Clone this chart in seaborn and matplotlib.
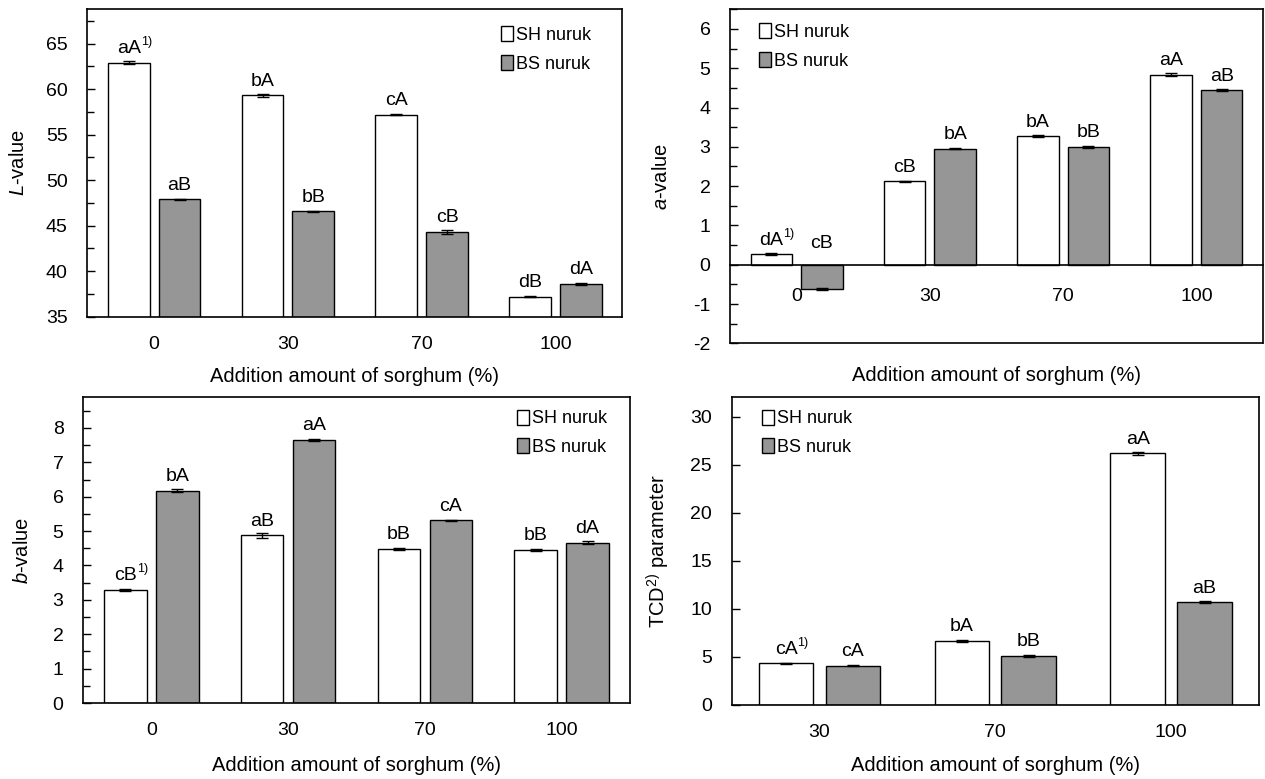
import matplotlib
matplotlib.use("Agg")
import matplotlib.pyplot as plt
import seaborn as sns
import pandas as pd
from matplotlib.patches import Patch
from matplotlib.ticker import MultipleLocator, NullLocator

# ---------------- data ----------------
series = ["SH nuruk", "BS nuruk"]
cats4 = ["0", "30", "70", "100"]
cats3 = ["30", "70", "100"]

L_sh = [62.9, 59.3, 57.2, 37.2]
L_bs = [47.9, 46.6, 44.3, 38.6]
L_sh_err = [0.15, 0.20, 0.05, 0.08]
L_bs_err = [0.05, 0.05, 0.20, 0.12]
L_sh_lab = ["aA", "bA", "cA", "dB"]
L_bs_lab = ["aB", "bB", "cB", "dA"]

a_sh = [0.27, 2.12, 3.27, 4.84]
a_bs = [-0.61, 2.95, 3.00, 4.44]
a_sh_err = [0.03, 0.01, 0.03, 0.03]
a_bs_err = [0.03, 0.01, 0.03, 0.03]
a_sh_lab = ["dA", "cB", "bA", "aA"]
a_bs_lab = ["cB", "bA", "bB", "aB"]

b_sh = [3.29, 4.88, 4.49, 4.45]
b_bs = [6.18, 7.65, 5.31, 4.66]
b_sh_err = [0.03, 0.07, 0.03, 0.04]
b_bs_err = [0.04, 0.03, 0.01, 0.04]
b_sh_lab = ["cB", "aB", "bB", "bB"]
b_bs_lab = ["bA", "aA", "cA", "dA"]

t_sh = [4.31, 6.63, 26.15]
t_bs = [4.03, 5.10, 10.66]
t_sh_err = [0.05, 0.12, 0.15]
t_bs_err = [0.05, 0.10, 0.10]
t_sh_lab = ["cA", "bA", "aA"]
t_bs_lab = ["cA", "bB", "aB"]

xlabel = "Addition amount of sorghum (%)"

# ---------------- style ----------------
sns.set_style("white")
plt.rcParams["font.family"] = ["Liberation Sans", "DejaVu Sans"]
plt.rcParams["mathtext.fontset"] = "custom"
plt.rcParams["mathtext.rm"] = "Liberation Sans"
plt.rcParams["mathtext.it"] = "Liberation Sans:italic"
plt.rcParams["axes.unicode_minus"] = False
for k in ["text.color", "axes.labelcolor", "xtick.color", "ytick.color", "axes.edgecolor"]:
    plt.rcParams[k] = "black"

GRAY = "#969696"
palette = {series[0]: "white", series[1]: GRAY}

fig = plt.figure(figsize=(12.65, 7.79), dpi=100)


def panel(rect, cats, sh, bs, sh_err, bs_err, sh_lab, bs_lab, ylim, major, minor,
          ylabel, ylab_x, xlab_y, leg_xy, xpad=14, zero_axis=False, note="1)"):
    ax = fig.add_axes(rect)
    n = len(cats)
    df = pd.DataFrame({
        "cat": cats * 2,
        "val": sh + bs,
        "series": [series[0]] * n + [series[1]] * n,
    })
    sns.barplot(data=df, x="cat", y="val", hue="series", order=cats, hue_order=series,
                palette=palette, saturation=1, width=0.76, gap=0.18,
                edgecolor="black", linewidth=1.0, errorbar=None, legend=False, ax=ax)

    first = True
    for cont, vals, err, labs in zip(ax.containers, [sh, bs], [sh_err, bs_err], [sh_lab, bs_lab]):
        xs = [p.get_x() + p.get_width() / 2 for p in cont.patches]
        ax.errorbar(xs, vals, yerr=err, fmt="none", ecolor="black", elinewidth=1.0,
                    capsize=4, capthick=1.0, zorder=5)
        for x, v, lab in zip(xs, vals, labs):
            off = 4 if v >= 0 else 9
            t = ax.annotate(lab, (x, max(v, 0)), xytext=(0, off), textcoords="offset points",
                            ha="center", va="bottom", fontsize=14)
            if first:
                ax.annotate(note, xy=(1.0, 0.88), xycoords=t, ha="left", va="center", fontsize=9)
                first = False

    ax.set_xlim(-0.5, n - 0.5)
    ax.set_ylim(*ylim)
    ax.yaxis.set_major_locator(MultipleLocator(major))
    if minor:
        ax.yaxis.set_minor_locator(MultipleLocator(minor))
    else:
        ax.yaxis.set_minor_locator(NullLocator())
    ax.set_xticks(range(n))
    ax.set_xticklabels(cats)
    ax.set_xticks([i + 0.5 for i in range(n - 1)], minor=True)

    ax.tick_params(axis="x", which="major", length=0, pad=xpad, labelsize=14)
    ax.tick_params(axis="x", which="minor", length=5, width=1.0, direction="in")
    ax.tick_params(axis="y", which="major", length=6, width=1.0, direction="in", pad=14,
                   labelsize=14, left=True)
    ax.tick_params(axis="y", which="minor", length=5, width=1.0, direction="in", left=True)

    for s in ax.spines.values():
        s.set_visible(True)
        s.set_color("black")
        s.set_linewidth(1.2)

    if zero_axis:
        ax.spines["bottom"].set_position(("data", 0))
        ax.plot([0, 1], [0, 0], transform=ax.transAxes, color="black", lw=1.2, clip_on=False)

    ax.set_xlabel(xlabel, fontsize=14.5)
    ax.xaxis.set_label_coords(0.5, xlab_y)
    ax.xaxis.label.set_va("center")
    ax.set_ylabel(ylabel, fontsize=14.5)
    ax.yaxis.set_label_coords(ylab_x, 0.5)
    ax.yaxis.label.set_va("center")

    handles = [Patch(facecolor="white", edgecolor="black", lw=1.0),
               Patch(facecolor=GRAY, edgecolor="black", lw=1.0)]
    ax.legend(handles, series, loc="upper left", bbox_to_anchor=leg_xy, frameon=False,
              handlelength=0.7, handleheight=0.9, handletextpad=0.15, labelspacing=0.6,
              fontsize=13, borderaxespad=0, borderpad=0)
    return ax


W, H = 1265, 779


def rect(l, r, t, b):
    return [l / W, 1 - b / H, (r - l) / W, (b - t) / H]


panel(rect(87.3, 622.3, 9, 316.7), cats4, L_sh, L_bs, L_sh_err, L_bs_err, L_sh_lab, L_bs_lab,
      (35, 68.8), 5, 2.5, r"$L$-value", -0.1295, -0.195, (0.773, 0.944))

panel(rect(730, 1263, 9.3, 343.3), cats4, a_sh, a_bs, a_sh_err, a_bs_err, a_sh_lab, a_bs_lab,
      (-2, 6.5), 1, 0.5, r"$a$-value", -0.1276, -0.095, (0.054, 0.958), xpad=17, zero_axis=True)

panel(rect(83, 630, 397, 703), cats4, b_sh, b_bs, b_sh_err, b_bs_err, b_sh_lab, b_bs_lab,
      (0, 8.9), 1, 0.5, r"$b$-value", -0.1106, -0.205, (0.793, 0.959))

panel(rect(731.6, 1259, 397.3, 704.5), cats3, t_sh, t_bs, t_sh_err, t_bs_err, t_sh_lab, t_bs_lab,
      (0, 32), 5, None, r"TCD$^{2)}$ parameter", -0.138, -0.197, (0.057, 0.96))

fig.savefig("out.png", dpi=100)
